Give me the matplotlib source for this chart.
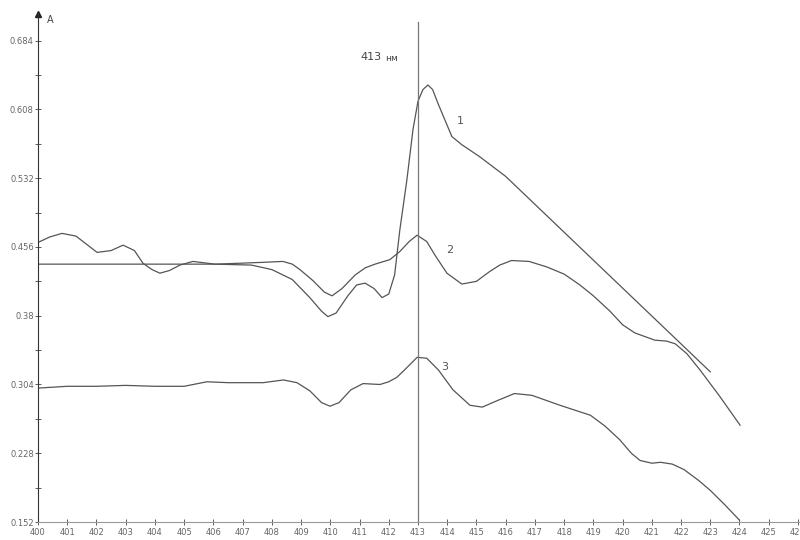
import numpy as np
import matplotlib.pyplot as plt

# wavelengths (nm) and absorbance
wl1 = [400, 402, 404, 406, 407.3, 408.0, 408.7, 409.3, 409.7, 409.92, 410.2, 410.6, 410.9, 411.19,
       411.5, 411.77, 412.0, 412.2, 412.38, 412.62, 412.83, 413.0, 413.17, 413.34, 413.5,
       413.68, 413.9, 414.16, 414.5, 415.1, 416.0, 423.0]
a1 = [0.437, 0.437, 0.437, 0.437, 0.436, 0.431, 0.420, 0.400, 0.385, 0.379, 0.383, 0.402, 0.414, 0.416,
      0.410, 0.400, 0.404, 0.425, 0.475, 0.530, 0.586, 0.617, 0.630, 0.635, 0.630,
      0.615, 0.598, 0.578, 0.569, 0.556, 0.534, 0.318]

wl2 = [400, 400.4, 400.82, 401.3, 401.7, 402.02, 402.5, 402.91, 403.3, 403.59, 403.9, 404.17, 404.5,
       404.86, 405.3, 406.05, 406.9, 407.7, 408.38, 408.7, 408.96, 409.4, 409.8, 410.06, 410.4,
       410.85, 411.2, 411.53, 412.04, 412.38, 412.7, 412.97, 413.3, 413.6, 413.99, 414.5,
       415.0, 415.46, 415.8, 416.2, 416.8, 417.4, 418.0, 418.54, 419.0, 419.57, 420.0, 420.42,
       421.1, 421.5, 421.8, 422.2, 422.65, 423.3, 424.02]
a2 = [0.461, 0.467, 0.471, 0.468, 0.458, 0.450, 0.452, 0.458, 0.452, 0.438, 0.431, 0.427, 0.430,
      0.436, 0.440, 0.437, 0.438, 0.439, 0.440, 0.437, 0.431, 0.419, 0.406, 0.402, 0.410,
      0.425, 0.433, 0.437, 0.442, 0.451, 0.462, 0.469, 0.462, 0.446, 0.427, 0.415,
      0.418, 0.429, 0.436, 0.441, 0.440, 0.434, 0.426, 0.414, 0.402, 0.385, 0.370, 0.361,
      0.353, 0.352, 0.349, 0.338, 0.320, 0.292, 0.259]

wl3 = [400, 401, 402, 403, 404, 405, 405.78, 406.5, 407.7, 408.4, 408.86, 409.3, 409.7, 409.99,
       410.3, 410.7, 411.12, 411.7, 412.0, 412.28, 412.6, 412.97, 413.3, 413.7, 414.2, 414.78,
       415.2, 415.7, 416.3, 416.9, 417.86, 418.9, 419.4, 419.9, 420.3, 420.6, 421.0, 421.3,
       421.7, 422.1, 422.6, 423.0, 423.5, 424.0]
a3 = [0.300, 0.302, 0.302, 0.303, 0.302, 0.302, 0.307, 0.306, 0.306, 0.309, 0.306, 0.297, 0.284, 0.280,
      0.284, 0.298, 0.305, 0.304, 0.307, 0.312, 0.322, 0.334, 0.333, 0.320, 0.298, 0.281,
      0.279, 0.286, 0.294, 0.292, 0.281, 0.270, 0.258, 0.243, 0.228, 0.220, 0.217, 0.218,
      0.216, 0.210, 0.198, 0.187, 0.171, 0.154]

yticks = [0.152, 0.228, 0.304, 0.38, 0.456, 0.532, 0.608, 0.684]
ytick_labels = ['0.152', '0.228', '0.304', '0.38', '0.456', '0.532', '0.608', '0.684']
xticks = list(range(400, 427))
peak_wl = 413

line_col = '#555555'

fig = plt.figure(figsize=(8, 5.4), dpi=100)
ax = fig.add_axes([0.0475, 0.0333, 0.9525, 0.94])

ax.plot(wl1, a1, color=line_col, lw=0.9)
ax.plot(wl2, a2, color=line_col, lw=0.9)
ax.plot(wl3, a3, color=line_col, lw=0.9)

ax.axvline(peak_wl, color='#777777', lw=0.9, ymax=0.985)
ax.text(411.39, 0.666, '413', fontsize=8, color='#444444', ha='center', va='center')
ax.text(412.1, 0.664, 'нм', fontsize=6.5, color='#444444', ha='center', va='center')

# curve numbers
ax.text(414.45, 0.595, '1', fontsize=8, color='#555555', ha='center', va='center')
ax.text(414.1, 0.453, '2', fontsize=8, color='#555555', ha='center', va='center')
ax.text(413.92, 0.323, '3', fontsize=8, color='#555555', ha='center', va='center')

ax.set_xlim(400, 426.07)
ax.set_ylim(0.152, 0.713)

for s in ['top', 'right']:
    ax.spines[s].set_visible(False)
ax.spines['left'].set_color('#333333')
ax.spines['bottom'].set_color('#999999')

ax.set_yticks(yticks)
ax.set_yticklabels(ytick_labels)
ax.set_yticks([(yticks[i] + yticks[i + 1]) / 2 for i in range(len(yticks) - 1)], minor=True)
ax.set_xticks(xticks)
ax.set_xticklabels([str(x) for x in xticks])
ax.tick_params(axis='both', which='both', direction='inout', length=4, width=0.6,
               labelsize=6, colors='#444444', pad=1)
ax.tick_params(axis='y', which='major', labelcolor='#666666')
ax.tick_params(axis='x', labelcolor='#666666', pad=2)

# arrow at the top of the absorbance axis
ax.plot([400], [0.713], marker='^', color='#222222', markersize=5, clip_on=False)
ax.text(400.3, 0.703, 'A', fontsize=7, color='#444444')

fig.savefig('out.png', dpi=100)
